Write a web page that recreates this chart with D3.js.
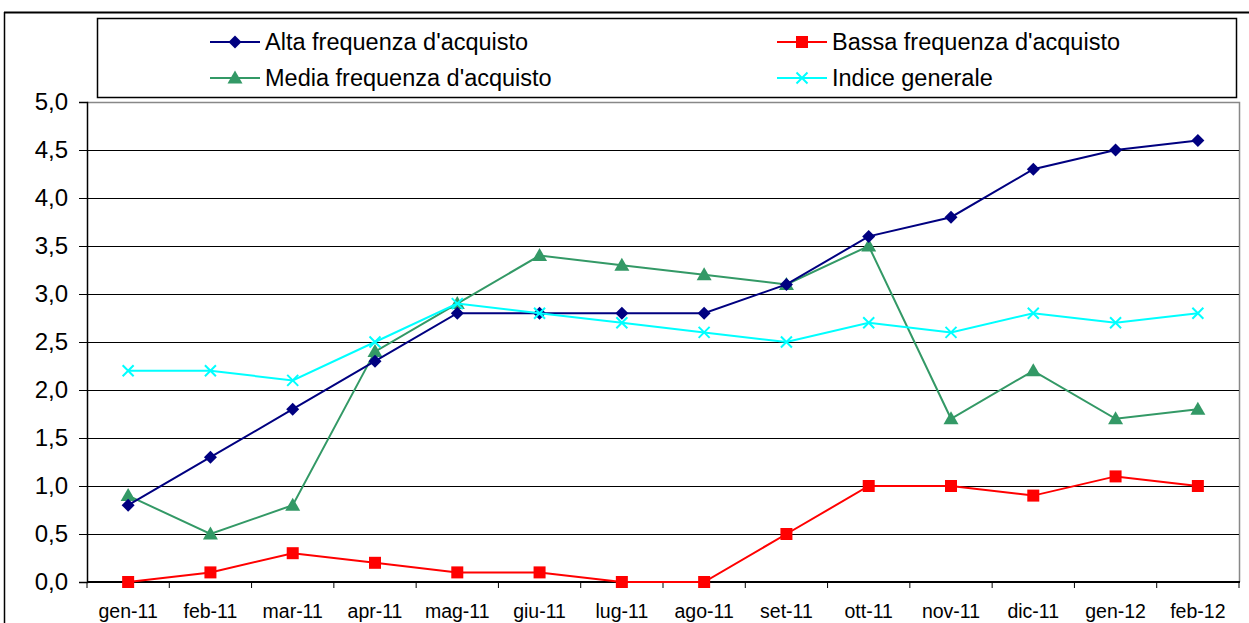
<!DOCTYPE html>
<html>
<head>
<meta charset="utf-8">
<script src="https://cdn.jsdelivr.net/npm/d3@7"></script>
<style>
  body { margin: 0; background: #fff; }
  svg text { font-family: "Liberation Sans", Arial, sans-serif; fill: #000; }
</style>
</head>
<body>
<div id="container"></div>
<script>
// data
let months = ["gen-11", "feb-11", "mar-11", "apr-11", "mag-11", "giu-11", "lug-11",
              "ago-11", "set-11", "ott-11", "nov-11", "dic-11", "gen-12", "feb-12"];
let alta   = [0.8, 1.3, 1.8, 2.3, 2.8, 2.8, 2.8, 2.8, 3.1, 3.6, 3.8, 4.3, 4.5, 4.6];
let bassa  = [0.0, 0.1, 0.3, 0.2, 0.1, 0.1, 0.0, 0.0, 0.5, 1.0, 1.0, 0.9, 1.1, 1.0];
let media  = [0.9, 0.5, 0.8, 2.4, 2.9, 3.4, 3.3, 3.2, 3.1, 3.5, 1.7, 2.2, 1.7, 1.8];
let indice = [2.2, 2.2, 2.1, 2.5, 2.9, 2.8, 2.7, 2.6, 2.5, 2.7, 2.6, 2.8, 2.7, 2.8];
let yTicks = [0, 0.5, 1, 1.5, 2, 2.5, 3, 3.5, 4, 4.5, 5];

let series = [
    {name: "Alta frequenza d'acquisto",  values: alta,   color: "#000080", marker: "diamond"},
    {name: "Bassa frequenza d'acquisto", values: bassa,  color: "#ff0000", marker: "square"},
    {name: "Media frequenza d'acquisto", values: media,  color: "#339966", marker: "triangle"},
    {name: "Indice generale",            values: indice, color: "#00ffff", marker: "cross"}
];

let W = 1249, H = 623;
let plotL = 87, plotR = 1239, plotT = 102, plotB = 582;

let svg = d3.select('#container')
            .append('svg')
            .attr("width", W)
            .attr("height", H);

// outer chart frame (cut off at the right and bottom)
svg.append('line').attr('x1', 4).attr('x2', W).attr('y1', 12.5).attr('y2', 12.5)
    .attr('stroke', '#000').attr('stroke-width', 2);
svg.append('line').attr('x1', 4.5).attr('x2', 4.5).attr('y1', 12).attr('y2', H)
    .attr('stroke', '#000').attr('stroke-width', 1.5);

let x = d3.scaleBand().domain(months).range([plotL, plotR]);
let y = d3.scaleLinear().domain([0, 5]).range([plotB, plotT]);

// plot border (gray top/right)
svg.append('path')
    .attr('d', `M${plotL},${plotT + 0.5}H${plotR + 0.5}V${plotB}`)
    .attr('fill', 'none').attr('stroke', '#888').attr('stroke-width', 1.5);

// gridlines
svg.append('g')
    .selectAll('line')
    .data(yTicks.filter(d => d > 0 && d < 5))
    .enter()
    .append('line')
    .attr('x1', plotL).attr('x2', plotR)
    .attr('y1', d => Math.round(y(d)) + 0.5).attr('y2', d => Math.round(y(d)) + 0.5)
    .attr('stroke', '#000').attr('stroke-width', 1);

// y axis
let yAxis = svg.append('g')
    .attr('transform', `translate(${plotL},0)`)
    .call(d3.axisLeft(y).tickValues(yTicks).tickSize(8).tickPadding(11)
        .tickFormat(d => d3.format(".1f")(d).replace(".", ",")));
yAxis.select('.domain').attr('stroke', '#000').attr('stroke-width', 1.5);
yAxis.selectAll('.tick line').attr('stroke', '#000');
yAxis.selectAll('text').attr('font-size', 24).attr('font-family', '"Liberation Sans", Arial, sans-serif');

// x axis with ticks on category boundaries
let xAxisG = svg.append('g').attr('transform', `translate(0,${plotB})`);
xAxisG.append('line').attr('x1', plotL).attr('x2', plotR + 1)
    .attr('stroke', '#000').attr('stroke-width', 2);
xAxisG.selectAll('.bt')
    .data(d3.range(months.length + 1))
    .enter()
    .append('line')
    .attr('x1', i => plotL + i * x.step()).attr('x2', i => plotL + i * x.step())
    .attr('y1', 0).attr('y2', 6)
    .attr('stroke', '#000').attr('stroke-width', 1);
xAxisG.selectAll('text')
    .data(months)
    .enter()
    .append('text')
    .attr('x', d => x(d) + x.bandwidth() / 2)
    .attr('y', 36)
    .attr('text-anchor', 'middle')
    .attr('font-size', 19.5)
    .text(d => d);

let line = d3.line()
    .x((d, i) => x(months[i]) + x.bandwidth() / 2)
    .y(d => y(d));

function drawMarker(g, type, color, cx, cy) {
    if (type === "diamond") {
        g.append('path').attr('d', `M${cx},${cy - 6.5}L${cx + 6.5},${cy}L${cx},${cy + 6.5}L${cx - 6.5},${cy}Z`)
            .attr('fill', color);
    } else if (type === "square") {
        g.append('rect').attr('x', cx - 6).attr('y', cy - 6).attr('width', 12).attr('height', 12)
            .attr('fill', color);
    } else if (type === "triangle") {
        g.append('path').attr('d', `M${cx},${cy - 7.5}L${cx + 7.5},${cy + 5.5}L${cx - 7.5},${cy + 5.5}Z`)
            .attr('fill', color);
    } else {
        g.append('path').attr('d', `M${cx - 5.5},${cy - 5.5}L${cx + 5.5},${cy + 5.5}M${cx - 5.5},${cy + 5.5}L${cx + 5.5},${cy - 5.5}`)
            .attr('stroke', color).attr('stroke-width', 2).attr('fill', 'none');
    }
}

// drawing order: media, alta, bassa, indice
let order = [2, 0, 1, 3];
order.forEach(k => {
    let s = series[k];
    let g = svg.append('g');
    g.append('path')
        .attr('d', line(s.values))
        .attr('fill', 'none')
        .attr('stroke', s.color)
        .attr('stroke-width', 2);
    s.values.forEach((v, i) => drawMarker(g, s.marker, s.color, x(months[i]) + x.bandwidth() / 2, y(v)));
});

// legend
let legend = svg.append('g');
legend.append('rect')
    .attr('x', 97.5).attr('y', 18.5).attr('width', 1139).attr('height', 79)
    .attr('fill', '#fff').attr('stroke', '#000').attr('stroke-width', 1.5);

let legendPos = [[210, 42], [777, 42], [210, 78], [777, 78]];
series.forEach((s, i) => {
    let [lx, ly] = legendPos[i];
    let g = legend.append('g');
    g.append('line').attr('x1', lx).attr('x2', lx + 50).attr('y1', ly).attr('y2', ly)
        .attr('stroke', s.color).attr('stroke-width', 2);
    drawMarker(g, s.marker, s.color, lx + 25, ly);
    g.append('text')
        .attr('x', lx + 55)
        .attr('y', ly + 8)
        .attr('font-size', 23.5)
        .text(s.name);
});
</script>
</body>
</html>
